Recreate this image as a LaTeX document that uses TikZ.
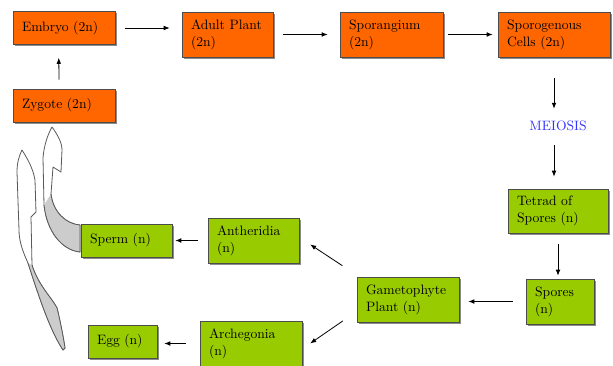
\documentclass[tikz,border=0pt]{standalone}
\usepackage{tikz}
\usetikzlibrary{arrows.meta,shadows}

\definecolor{sporo}{HTML}{FF6600}
\definecolor{gamet}{HTML}{99CC00}
\definecolor{meio}{HTML}{3333FF}

\begin{document}
\begin{tikzpicture}[x=0.75pt, y=-0.75pt, >={Latex[length=4.5pt,width=3.5pt]}]
  % Styles
  \tikzstyle{orangebox}=[draw=black!70, fill=sporo, inner xsep=6.75pt, inner ysep=2pt, align=left,
    font=\rmfamily\fontsize{10.2pt}{12.75pt}\selectfont, drop shadow={shadow xshift=1.2pt, shadow yshift=-1.2pt, fill=black!45, opacity=1}]
  \tikzstyle{greenbox}=[orangebox, fill=gamet]
  \tikzstyle{lab}=[inner sep=0pt, font=\rmfamily\fontsize{10.2pt}{12.75pt}\selectfont, text=meio]
  \tikzstyle{arr}=[->, line width=0.6pt]
  \tikzstyle{curvearrow}=[draw=black!65, line width=0.6pt, fill=white, line join=round]
  \tikzstyle{curveback}=[fill=black!20]

  \useasboundingbox (0,0) rectangle (613,365);

  % Sporophyte generation (2n)
  \node[orangebox, text width=63pt, minimum height=24.75pt] (emb) at (64,28) {Embryo (2n)};
  \node[orangebox, text width=54.75pt, minimum height=33.75pt] (adult) at (227.5,34.5) {Adult Plant\\(2n)};
  \node[orangebox, text width=63.75pt, minimum height=33.75pt] (spor) at (391.5,34.5) {Sporangium\\(2n)};
  \node[orangebox, text width=70.5pt, minimum height=33.75pt] (sporog) at (554,34.5) {Sporogenous\\Cells (2n)};
  \node[orangebox, text width=63pt, minimum height=24.75pt] (zyg) at (64,105.5) {Zygote (2n)};

  \draw[arr, shorten <=7.5pt, shorten >=9pt] (emb.east) -- (emb.east -| adult.west);
  \draw[arr, shorten <=7.5pt, shorten >=9pt] (adult.east) -- (spor.west);
  \draw[arr, shorten <=3.75pt, shorten >=3.75pt] (spor.east) -- (sporog.west);
  \draw[arr, shorten <=6.75pt, shorten >=9.75pt] (zyg.106.9) -- (emb.252.6);

  % Meiosis
  \node[lab] (mei) at (558,126) {MEIOSIS};
  \draw[arr, shorten <=15.75pt, shorten >=9pt] (sporog.south) -- (sporog.south |- mei.north);

  % Gametophyte generation (n)
  \node[greenbox, text width=61.5pt, minimum height=33pt] (tet) at (558,211) {Tetrad of\\Spores (n)};
  \node[greenbox, text width=37.5pt, minimum height=33.75pt] (spores) at (560,301.5) {Spores\\(n)};
  \node[greenbox, text width=63pt, minimum height=33.75pt] (gam) at (408,299.5) {Gametophyte\\Plant (n)};
  \node[greenbox, text width=54.75pt, minimum height=33.75pt] (anth) at (253.5,240.5) {Antheridia\\(n)};
  \node[greenbox, text width=63pt, minimum height=33.75pt] (arch) at (251,343.5) {Archegonia\\(n)};
  \node[greenbox, text width=54.75pt, minimum height=24.75pt] (sperm) at (126.5,240.5) {Sperm (n)};
  \node[greenbox, text width=38.25pt, minimum height=24.75pt] (egg) at (122.5,341.5) {Egg (n)};

  \draw[arr, shorten <=10.5pt, shorten >=9pt] (mei.south -| sporog.south) -- (tet.north -| sporog.south);
  \draw[arr, shorten <=8.25pt, shorten >=2.25pt] (tet.south) -- (tet.south |- spores.north);
  \draw[arr, shorten <=9.75pt, shorten >=6.75pt] (spores.west) -- (spores.west -| gam.east);
  \draw[arr, shorten <=15pt, shorten >=9.8pt] (gam.155) -- (anth.4);
  \draw[arr, shorten <=12.6pt, shorten >=7.2pt] (gam.193.5) -- (arch.354.6);
  \draw[arr, shorten <=7.5pt, shorten >=2.25pt] (anth.west) -- (anth.west -| sperm.east);
  \draw[arr, shorten <=10.5pt, shorten >=5.25pt] (arch.west) -- (arch.west -| egg.east);

  % Fertilisation: curved arrows back to the zygote
  \draw[curvearrow] (52,127) .. controls (57,134) and (62,142) .. (62,150) -- (61,172) -- (53,167)
    -- (51,194) .. controls (53,212) and (66,224) .. (80,225) -- (80,252)
    .. controls (62,250) and (47,232) .. (44,205) -- (43,158) .. controls (44,145) and (48,134) .. (52,127) -- cycle;
  \fill[curveback] (51,194) .. controls (53,212) and (66,224) .. (80,225) -- (80,252)
    .. controls (62,250) and (47,232) .. (44,205) -- cycle;
  \draw[curvearrow, fill=none] (51,194) .. controls (53,212) and (66,224) .. (80,225) -- (80,252)
    .. controls (62,250) and (47,232) .. (44,205);

  \draw[curvearrow] (22,150) .. controls (27,158) and (33,168) .. (35,180) -- (36,212) -- (31,217)
    -- (32,265) .. controls (38,285) and (52,298) .. (57,308) .. controls (60,320) and (63,335) .. (65,348) -- (63,350)
    .. controls (50,330) and (40,300) .. (28,263) .. controls (22,250) and (19,240) .. (19,230)
    -- (17,172) .. controls (17,163) and (19,156) .. (22,150) -- cycle;
  \fill[curveback] (32,265) .. controls (38,285) and (52,298) .. (57,308) .. controls (60,320) and (63,335) .. (65,348) -- (63,350)
    .. controls (50,330) and (40,300) .. (28,263) -- cycle;
  \draw[curvearrow, fill=none] (32,265) .. controls (38,285) and (52,298) .. (57,308) .. controls (60,320) and (63,335) .. (65,348) -- (63,350)
    .. controls (50,330) and (40,300) .. (28,263);
\end{tikzpicture}
\end{document}
